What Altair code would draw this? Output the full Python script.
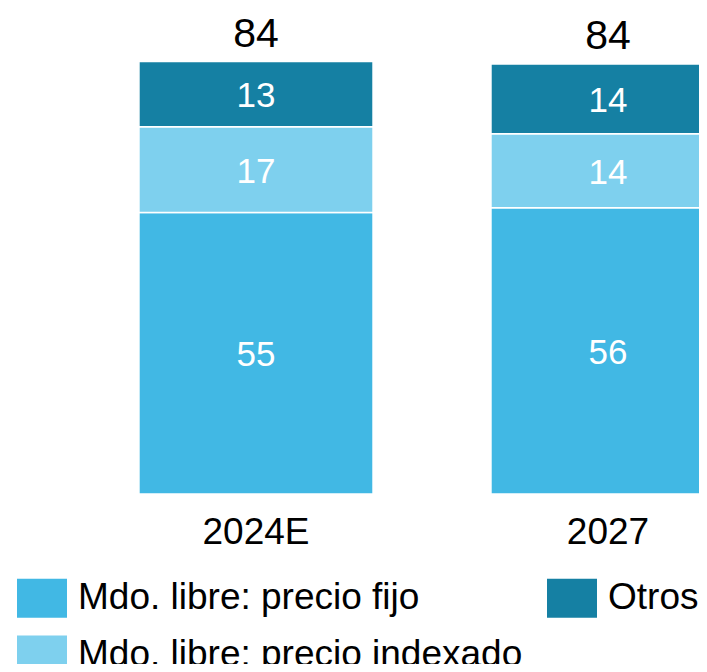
import altair as alt
import pandas as pd

years = ["2024E", "2027"]
fijo = [54.8, 55.7]
indexado = [16.7, 14.4]
otros = [12.7, 13.6]
series = ["Mdo. libre: precio fijo", "Mdo. libre: precio indexado", "Otros"]
legend_order = ["Mdo. libre: precio fijo", "Otros", "Mdo. libre: precio indexado"]
legend_colors = ["#41B8E4", "#1580A3", "#7ED0EE"]

rows = []
for i, yr in enumerate(years):
    for k, (name, vals) in enumerate(zip(series, [fijo, indexado, otros])):
        rows.append({"year": yr, "serie": name, "value": vals[i], "orden": k,
                     "label": str(int(round(vals[i])))})
df = pd.DataFrame(rows)

tot_vals = [fijo[i] + indexado[i] + otros[i] for i in range(len(years))]
tot = pd.DataFrame({"year": years, "total": tot_vals,
                    "label": [str(int(round(t))) for t in tot_vals]})

FONT = "Liberation Sans"

xenc = alt.X("year:N", sort=years,
             scale=alt.Scale(domain=years, range=[0, 848], paddingInner=0.335, paddingOuter=0.372),
             axis=alt.Axis(title=None, ticks=False, domain=False, labelAngle=0,
                           labelFontSize=37, labelFont=FONT, labelColor="#000000",
                           labelPadding=20))
yscale = alt.Scale(domain=[0, 94.6], nice=False)

bars = alt.Chart(df).mark_bar(stroke="white", strokeWidth=1.5, clip=True).encode(
    x=xenc,
    y=alt.Y("value:Q", stack="zero", scale=yscale, axis=None),
    color=alt.Color("serie:N", sort=legend_order,
                    scale=alt.Scale(domain=legend_order, range=legend_colors),
                    legend=alt.Legend(orient="none", direction="horizontal",
                                      legendX=9, legendY=565, columns=2,
                                      columnPadding=24, rowPadding=12, title=None, padding=0,
                                      symbolType="M-1,-0.78H1V0.78H-1Z", symbolSize=2500,
                                      symbolStrokeWidth=0, symbolOpacity=1,
                                      labelFontSize=37, labelFont=FONT, labelColor="#000000",
                                      labelLimit=800, labelOffset=11)),
    order=alt.Order("orden:Q"),
)

seg_text = alt.Chart(df).transform_stack(
    stack="value", groupby=["year"], sort=[alt.SortField("orden")], as_=["y0", "y1"]
).transform_calculate(mid="(datum.y0 + datum.y1) / 2").mark_text(
    color="white", fontSize=35, font=FONT, baseline="alphabetic", dy=13
).encode(
    x=alt.X("year:N", sort=years),
    y=alt.Y("mid:Q", scale=yscale),
    text="label:N",
)

tot_text = alt.Chart(tot).mark_text(
    color="black", fontSize=41, font=FONT, baseline="alphabetic", dy=-14.5
).encode(
    x=alt.X("year:N", sort=years),
    y=alt.Y("total:Q", scale=yscale),
    text="label:N",
)

chart = alt.layer(bars, seg_text, tot_text).properties(
    width=691, height=486,
    padding={"left": 0, "top": 0, "right": 0, "bottom": 170},
    autosize=alt.AutoSizeParams(type="none"),
).configure_view(stroke=None)

chart.save("out.html", embed_options={"renderer": "svg", "actions": False})
